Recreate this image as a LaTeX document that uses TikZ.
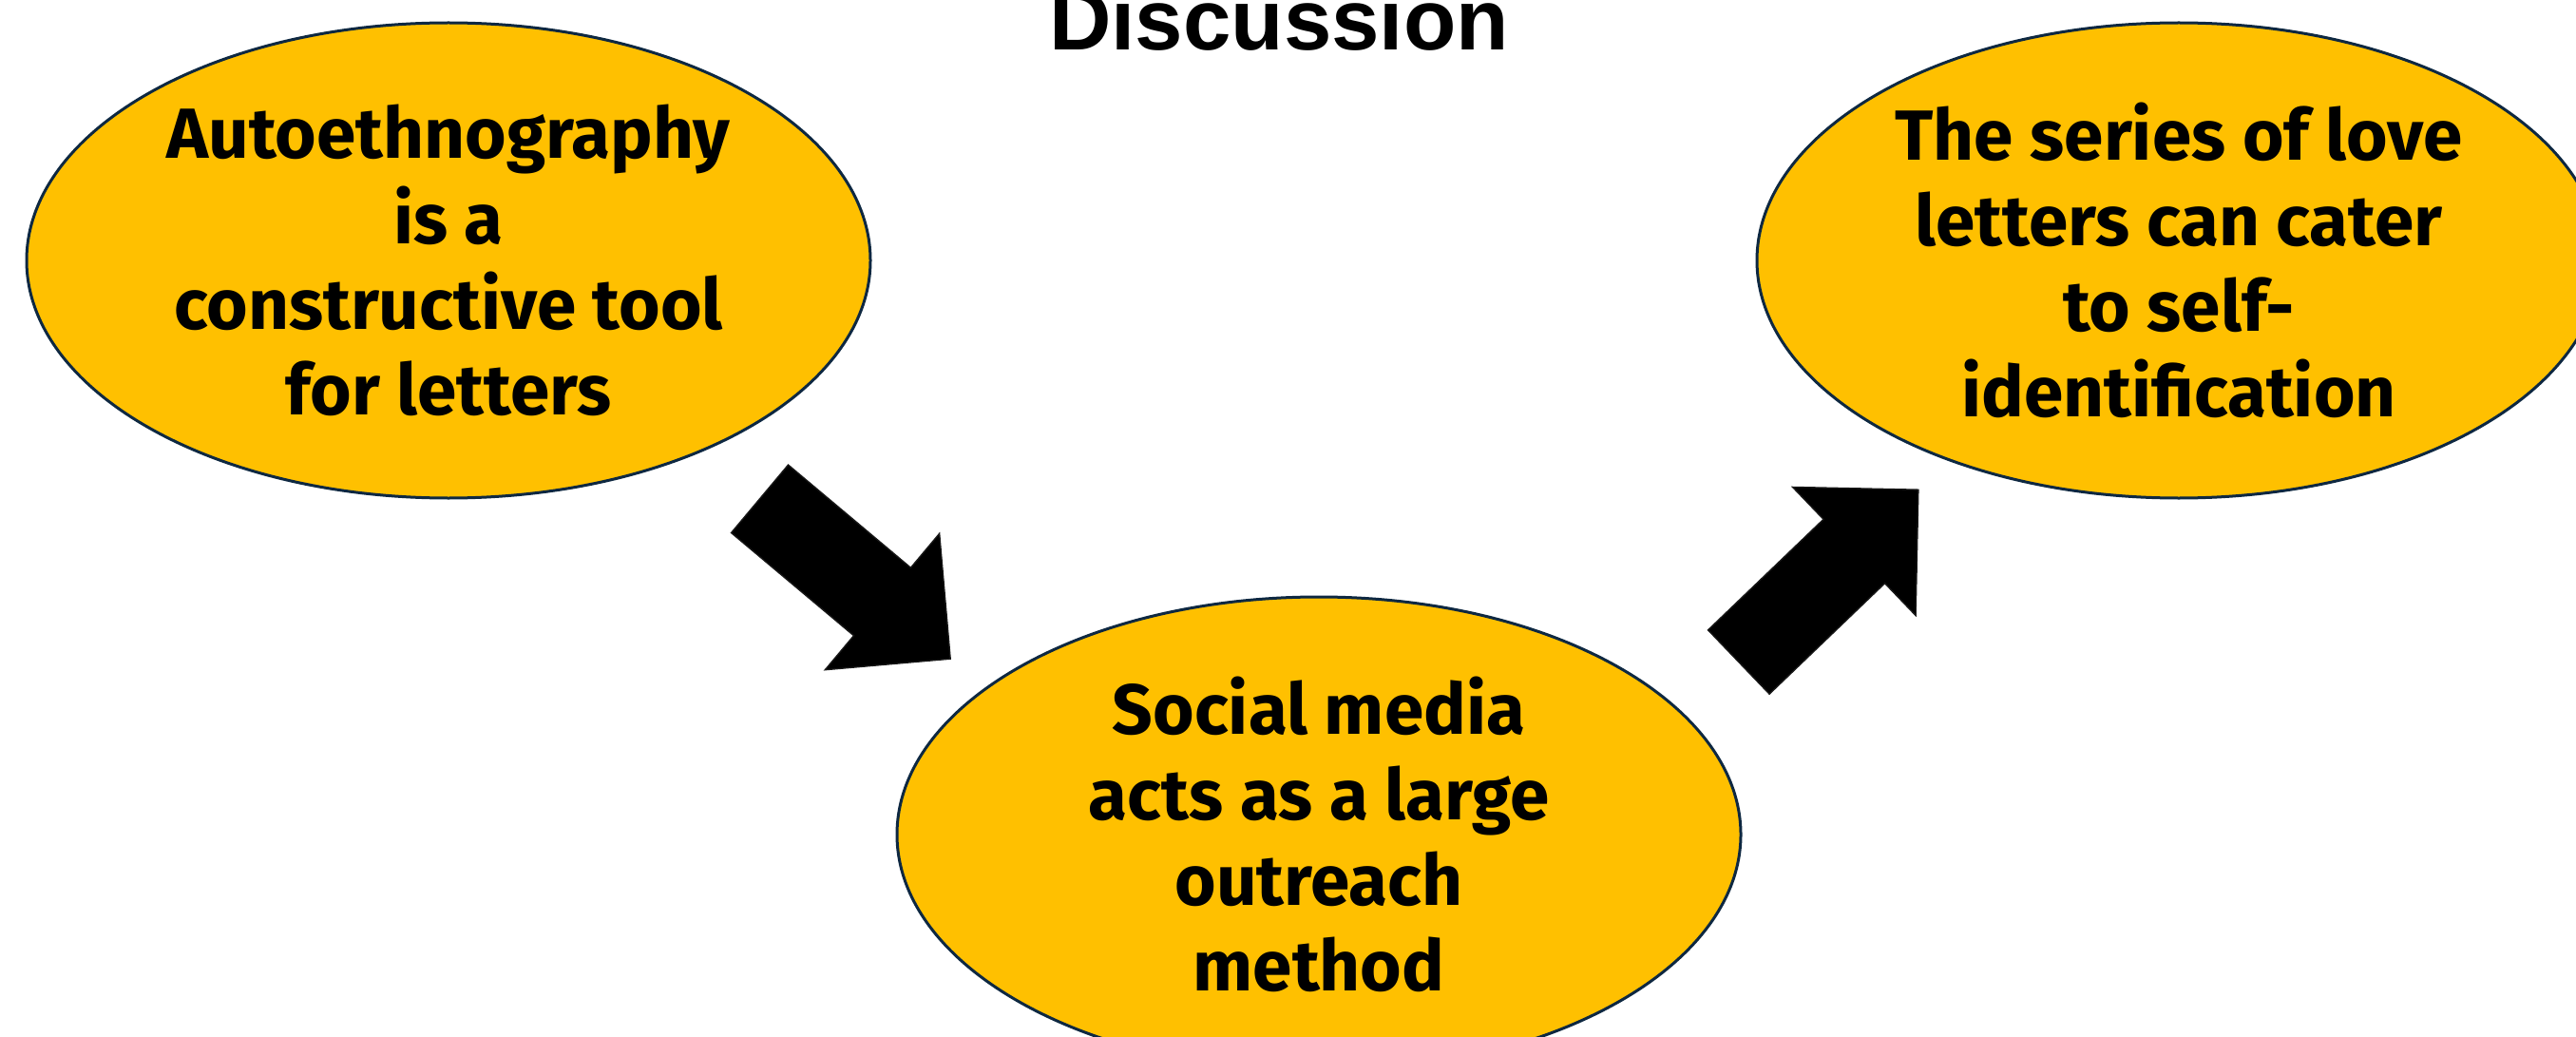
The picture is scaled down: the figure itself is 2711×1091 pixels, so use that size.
\documentclass[tikz,border=0pt]{standalone}
\usepackage{fontspec}
\setmainfont{Fira Sans}
\newfontfamily\titlefont{Liberation Sans}[BoldFont={Liberation Sans Bold}]
\usetikzlibrary{shapes.geometric,shapes.arrows}
\definecolor{bubbleGold}{HTML}{FFC000}
\definecolor{bubbleLine}{HTML}{0E2841}
\tikzset{every picture/.style={line width=0.75pt}}
\tikzset{
	bubble/.style={ellipse, draw=bubbleLine, line width=2.25pt, fill=bubbleGold,
		minimum width=666pt, minimum height=375pt, inner sep=0pt, align=center,
		font=\fontsize{56}{67.5}\selectfont\bfseries},
	blockarrow/.style={single arrow, draw=black!90, line width=1pt, fill=black,
		text height=0pt, text depth=0pt, text width=0pt,
		inner xsep=0pt, inner ysep=34.5pt, minimum height=196.5pt,
		single arrow head extend=35.25pt}}

\begin{document}
\begin{tikzpicture}[x=0.75pt,y=0.75pt,yscale=-1,xscale=1]
	\useasboundingbox (0,0) rectangle (2711,1091);
	\clip (0,0) rectangle (2711,1091);

	% Text Node
	\draw (1346,53) node [anchor=base, font=\titlefont\bfseries\fontsize{68}{80}\selectfont] (title) {Discussion};

	%Shape: Ellipse [left]
	\draw (472,274) node [bubble] (auto) {Autoethnography\\is a\\constructive tool\\for letters};
	%Shape: Ellipse [middle]
	\draw (1388,878) node [bubble] (social) {Social media\\acts as a large\\outreach\\method};
	%Shape: Ellipse [right]
	\draw (2293,274) node [bubble] (love) {The series of love\\letters can cater\\to self-\\identification};

	%Shape: Right Arrow [down]
	\draw (882,594) node [blockarrow, rotate=-40] (downarrow) {};
	%Shape: Right Arrow [up]
	\draw (1907.5,622) node [blockarrow, rotate=43.8] (uparrow) {};

\end{tikzpicture}
\end{document}
